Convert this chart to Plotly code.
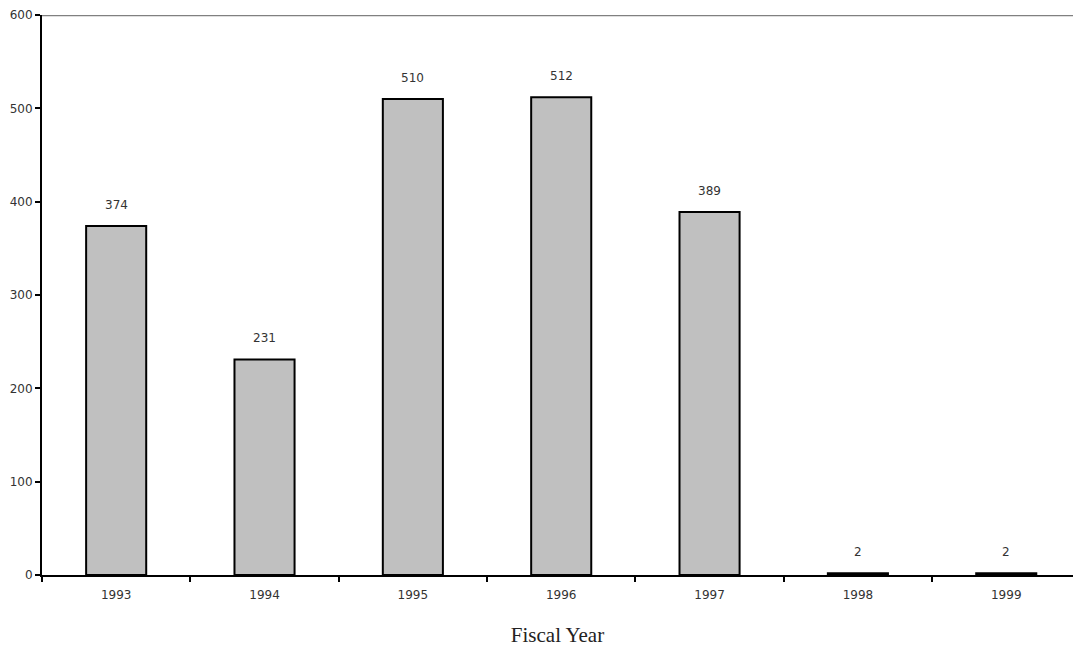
import plotly.graph_objects as go

years = ["1993", "1994", "1995", "1996", "1997", "1998", "1999"]
counts = [374, 231, 510, 512, 389, 2, 2]
y_ticks = [0, 100, 200, 300, 400, 500, 600]

tick_font = dict(family="DejaVu Sans, Tahoma, sans-serif", size=12, color="#333333")

fig = go.Figure()
fig.add_trace(go.Bar(
    x=years,
    y=counts,
    width=0.405,
    marker=dict(color="#C0C0C0", line=dict(color="black", width=2)),
    hoverinfo="x+y",
))

# value labels above each bar (category positions given by index)
for i, v in enumerate(counts):
    fig.add_annotation(x=i, y=v, xref="x", yref="y", text=str(v), showarrow=False,
                       yshift=21, font=tick_font)

# gray top border of the plotting area
fig.add_shape(type="line", xref="paper", yref="y", x0=0, x1=1, y0=600, y1=600,
              line=dict(color="#808080", width=2.5))

fig.update_layout(
    width=1073, height=650,
    margin=dict(l=42, r=0, t=15, b=75),
    plot_bgcolor="white", paper_bgcolor="white",
    showlegend=False,
    bargap=0.6,
    xaxis=dict(
        type="category",
        range=[-0.5, 6.45],
        showline=True, linecolor="black", linewidth=2,
        ticks="outside", tickson="boundaries", ticklen=5, tickwidth=2, tickcolor="black",
        tickfont=tick_font,
        ticklabelstandoff=8,
        showgrid=False,
        title=dict(text="Fiscal Year",
                   font=dict(family="Liberation Serif, Times New Roman, serif", size=21, color="#222222"),
                   standoff=26),
    ),
    yaxis=dict(
        range=[0, 600],
        tickvals=y_ticks,
        showline=True, linecolor="black", linewidth=2,
        ticks="outside", ticklen=5, tickwidth=2, tickcolor="black",
        tickfont=tick_font,
        showgrid=False, zeroline=False,
    ),
)

fig.write_html("out.html")
